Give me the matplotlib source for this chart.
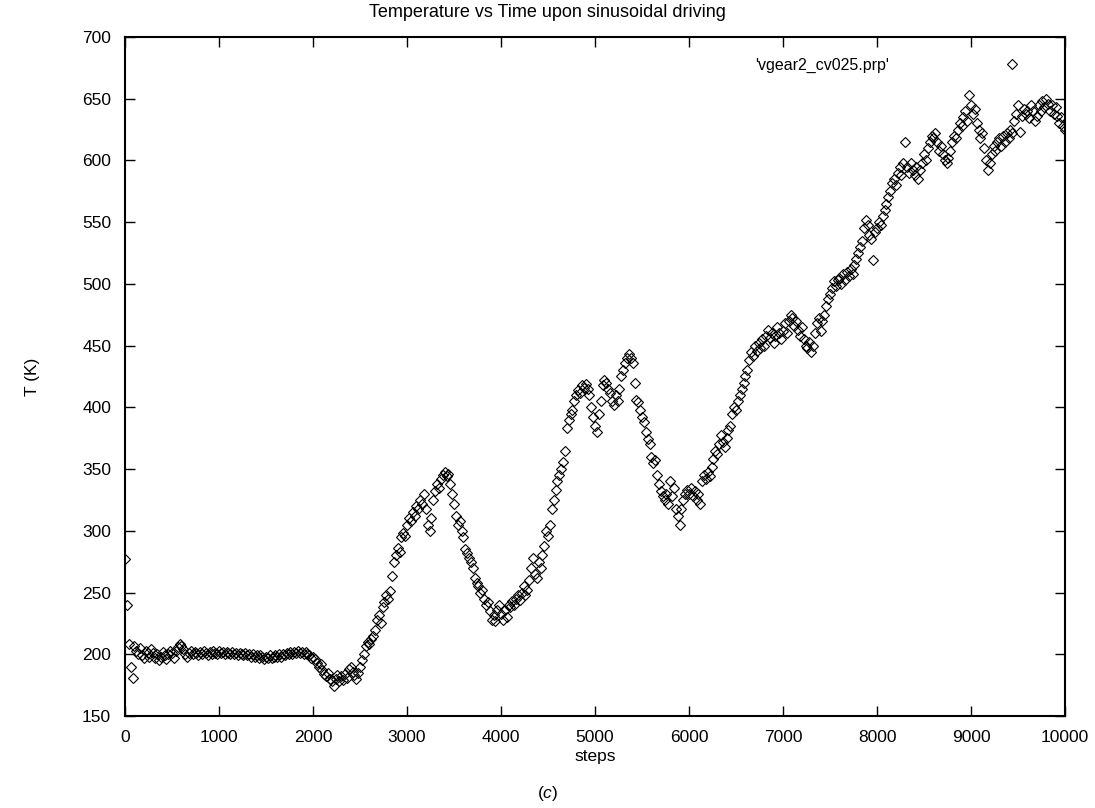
import numpy as np
import matplotlib
matplotlib.use('Agg')
import matplotlib.pyplot as plt

plt.rcParams['font.family'] = ['Liberation Sans', 'DejaVu Sans']
plt.rcParams['mathtext.fontset'] = 'custom'
plt.rcParams['mathtext.rm'] = 'Liberation Sans'
plt.rcParams['mathtext.it'] = 'Liberation Sans:italic'

# temperature, one value every 20 steps, in 1000-step blocks
t_0k = [277, 240, 208, 190, 181, 207, 203, 200, 205, 199,
        197, 203, 201, 198, 204, 201, 197, 200, 195, 198,
        202, 199, 196, 200, 203, 201, 197, 203, 206, 208,
        207, 204, 200, 198, 201, 203, 200, 202, 201, 199,
        202, 200, 203, 201, 199, 202, 200, 203, 201, 200]
t_1k = [203, 201, 202, 200, 202, 201, 200, 202, 200, 201,
        199, 201, 200, 199, 201, 199, 200, 198, 200, 198,
        199, 197, 199, 198, 196, 198, 197, 199, 197, 198,
        199, 198, 200, 198, 200, 199, 201, 200, 202, 200,
        202, 201, 203, 201, 202, 200, 202, 200, 199, 197]
t_2k = [198, 196, 193, 190, 192, 187, 184, 182, 185, 180,
        178, 174, 180, 183, 178, 182, 179, 184, 181, 188,
        190, 186, 183, 180, 185, 190, 195, 200, 207, 210,
        208, 212, 215, 220, 228, 232, 225, 238, 242, 248,
        245, 251, 263, 275, 280, 286, 283, 295, 298, 296]
t_3k = [305, 310, 308, 315, 312, 320, 318, 325, 322, 330,
        318, 305, 300, 310, 325, 332, 338, 335, 342, 345,
        348, 344, 346, 338, 330, 322, 312, 305, 308, 300,
        295, 285, 282, 278, 275, 270, 262, 258, 255, 250,
        252, 245, 240, 242, 235, 228, 232, 227, 236, 240]
t_4k = [233, 228, 236, 230, 240, 238, 243, 240, 245, 248,
        244, 250, 255, 248, 252, 260, 270, 278, 265, 262,
        275, 270, 280, 288, 300, 296, 305, 318, 325, 333,
        340, 345, 350, 356, 365, 383, 390, 395, 398, 405,
        410, 414, 412, 418, 416, 419, 415, 410, 400, 392]
t_5k = [385, 380, 395, 405, 418, 422, 420, 415, 412, 405,
        402, 410, 405, 415, 425, 430, 436, 440, 443, 440,
        436, 420, 406, 404, 398, 392, 388, 380, 374, 370,
        360, 355, 357, 345, 338, 332, 328, 325, 330, 322,
        340, 328, 335, 318, 312, 305, 318, 325, 330, 333]
t_6k = [330, 335, 328, 332, 325, 330, 322, 340, 345, 342,
        348, 344, 352, 358, 365, 362, 370, 378, 372, 368,
        375, 382, 385, 395, 400, 398, 405, 410, 415, 420,
        425, 430, 438, 445, 442, 450, 446, 452, 448, 455,
        450, 458, 463, 456, 460, 452, 458, 465, 460, 455]
t_7k = [462, 468, 460, 470, 475, 472, 466, 470, 463, 458,
        465, 455, 450, 448, 453, 445, 450, 460, 468, 472,
        462, 470, 475, 482, 488, 492, 497, 502, 498, 503,
        505, 500, 508, 503, 510, 506, 512, 508, 515, 520,
        525, 530, 535, 545, 552, 548, 540, 536, 519, 542]
t_8k = [545, 550, 548, 555, 560, 565, 570, 575, 582, 585,
        580, 590, 595, 588, 598, 615, 595, 590, 598, 592,
        588, 595, 585, 592, 598, 605, 600, 610, 615, 620,
        618, 622, 615, 608, 612, 605, 600, 598, 602, 608,
        615, 620, 618, 625, 630, 628, 635, 640, 632, 653]
t_9k = [645, 638, 642, 630, 625, 618, 622, 610, 600, 592,
        598, 605, 612, 608, 615, 618, 612, 620, 615, 622,
        618, 625, 622, 632, 638, 645, 623, 636, 642, 638,
        640, 634, 645, 640, 632, 636, 645, 640, 648, 643,
        650, 646, 640, 645, 638, 643, 636, 630, 635, 628, 625]

temps = t_0k + t_1k + t_2k + t_3k + t_4k + t_5k + t_6k + t_7k + t_8k + t_9k
steps = np.arange(len(temps)) * 20

fig = plt.figure(figsize=(10.95, 8.08), dpi=100)
ax = fig.add_axes([0.1142, 0.1139, 0.8584, 0.8403])
ax.plot(steps, temps, linestyle='none', marker='D', markersize=5.4,
        markerfacecolor='none', markeredgecolor='black', markeredgewidth=0.8,
        label="'vgear2_cv025.prp'")

ax.set_xlim(0, 10000)
ax.set_ylim(150, 700)
ax.set_xticks(np.arange(0, 10001, 1000))
ax.set_yticks(np.arange(150, 701, 50))
ax.tick_params(direction='in', length=7, width=1, top=True, right=True,
               labelsize=12.5, pad=10)
for s in ax.spines.values():
    s.set_linewidth(1.5)

fig.text(0.5, 0.985, 'Temperature vs Time upon sinusoidal driving',
         ha='center', va='center', fontsize=13)
ax.set_xlabel('steps', fontsize=12.5, labelpad=3)
ax.set_ylabel('T (K)', fontsize=12.5, labelpad=30)
fig.text(0.5, 0.012, r'$(c)$', ha='center', fontsize=12.5)

ax.legend(loc='upper right', frameon=False, markerfirst=False, fontsize=11.5,
          handlelength=4, handletextpad=5.75, borderaxespad=0.9)

fig.savefig('out.png', dpi=100)
